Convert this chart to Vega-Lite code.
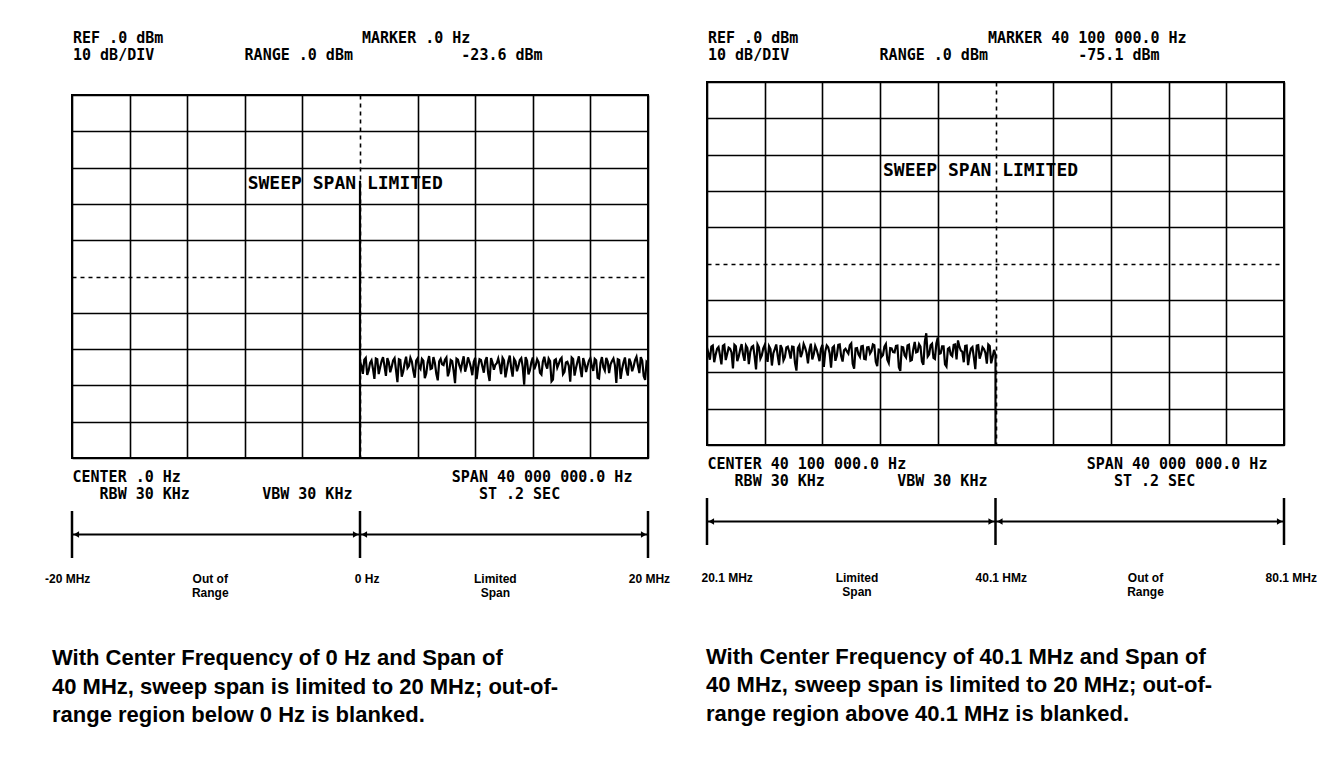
{
  "$schema": "https://vega.github.io/schema/vega-lite/v6.json",
  "background": "white",
  "padding": {"left": 45, "top": 31, "right": 10, "bottom": 20},
  "config": {"view": {"stroke": "black", "strokeWidth": 2}},
  "datasets": {
    "traceL": [
      {"MHz":-20,"dBm":-100},{"MHz":0,"dBm":-100},{"MHz":0,"dBm":-23.6},
      {"MHz":0,"dBm":-73.5},{"MHz":0.1,"dBm":-74.6},{"MHz":0.2,"dBm":-76.8},{"MHz":0.3,"dBm":-72.9},{"MHz":0.4,"dBm":-72.4},{"MHz":0.5,"dBm":-77.1},{"MHz":0.6,"dBm":-75.9},{"MHz":0.7,"dBm":-73.8},{"MHz":0.8,"dBm":-73.1},{"MHz":0.9,"dBm":-75.4},
      {"MHz":1,"dBm":-78.2},{"MHz":1.1,"dBm":-72.6},{"MHz":1.2,"dBm":-72.8},{"MHz":1.3,"dBm":-76.9},{"MHz":1.4,"dBm":-75},{"MHz":1.5,"dBm":-73.3},{"MHz":1.6,"dBm":-72.2},{"MHz":1.7,"dBm":-74.7},{"MHz":1.8,"dBm":-77.4},{"MHz":1.9,"dBm":-72.5},
      {"MHz":2,"dBm":-73.6},{"MHz":2.1,"dBm":-76.4},{"MHz":2.2,"dBm":-74.9},{"MHz":2.3,"dBm":-73.1},{"MHz":2.4,"dBm":-72.5},{"MHz":2.5,"dBm":-75.8},{"MHz":2.6,"dBm":-79.1},{"MHz":2.7,"dBm":-72.8},{"MHz":2.8,"dBm":-73},{"MHz":2.9,"dBm":-77.6},
      {"MHz":3,"dBm":-76.2},{"MHz":3.1,"dBm":-73.9},{"MHz":3.2,"dBm":-72.1},{"MHz":3.3,"dBm":-75.2},{"MHz":3.4,"dBm":-74.6},{"MHz":3.5,"dBm":-72.4},{"MHz":3.6,"dBm":-73.4},{"MHz":3.7,"dBm":-76},{"MHz":3.8,"dBm":-77.9},{"MHz":3.9,"dBm":-73.2},
      {"MHz":4,"dBm":-72.6},{"MHz":4.1,"dBm":-74.9},{"MHz":4.2,"dBm":-75.5},{"MHz":4.3,"dBm":-72.7},{"MHz":4.4,"dBm":-73.2},{"MHz":4.5,"dBm":-78},{"MHz":4.6,"dBm":-76.7},{"MHz":4.7,"dBm":-73.6},{"MHz":4.8,"dBm":-71.9},{"MHz":4.9,"dBm":-75.5},
      {"MHz":5,"dBm":-75.3},{"MHz":5.1,"dBm":-72.2},{"MHz":5.2,"dBm":-73.8},{"MHz":5.3,"dBm":-76.8},{"MHz":5.4,"dBm":-78.6},{"MHz":5.5,"dBm":-73.4},{"MHz":5.6,"dBm":-72.7},{"MHz":5.7,"dBm":-74.2},{"MHz":5.8,"dBm":-74.4},{"MHz":5.9,"dBm":-72.9},
      {"MHz":6,"dBm":-72.3},{"MHz":6.1,"dBm":-77.5},{"MHz":6.2,"dBm":-76.1},{"MHz":6.3,"dBm":-73},{"MHz":6.4,"dBm":-73.3},{"MHz":6.5,"dBm":-75.9},{"MHz":6.6,"dBm":-79.4},{"MHz":6.7,"dBm":-72.6},{"MHz":6.8,"dBm":-72.9},{"MHz":6.9,"dBm":-74.5},
      {"MHz":7,"dBm":-75.7},{"MHz":7.1,"dBm":-73.7},{"MHz":7.2,"dBm":-72},{"MHz":7.3,"dBm":-76.2},{"MHz":7.4,"dBm":-74.8},{"MHz":7.5,"dBm":-72.3},{"MHz":7.6,"dBm":-73.5},{"MHz":7.7,"dBm":-75},{"MHz":7.8,"dBm":-77.2},{"MHz":7.9,"dBm":-73.5},
      {"MHz":8,"dBm":-72.4},{"MHz":8.1,"dBm":-78.3},{"MHz":8.2,"dBm":-75.1},{"MHz":8.3,"dBm":-72.8},{"MHz":8.4,"dBm":-73},{"MHz":8.5,"dBm":-74.8},{"MHz":8.6,"dBm":-76.5},{"MHz":8.7,"dBm":-73.2},{"MHz":8.8,"dBm":-72.2},{"MHz":8.9,"dBm":-76.7},
      {"MHz":9,"dBm":-78.8},{"MHz":9.1,"dBm":-72.5},{"MHz":9.2,"dBm":-73.7},{"MHz":9.3,"dBm":-75.7},{"MHz":9.4,"dBm":-74.3},{"MHz":9.5,"dBm":-73.9},{"MHz":9.6,"dBm":-72.6},{"MHz":9.7,"dBm":-74.4},{"MHz":9.8,"dBm":-76.9},{"MHz":9.9,"dBm":-72.4},
      {"MHz":10,"dBm":-73.1},{"MHz":10.1,"dBm":-77.8},{"MHz":10.2,"dBm":-75.6},{"MHz":10.3,"dBm":-73.3},{"MHz":10.4,"dBm":-71.8},{"MHz":10.5,"dBm":-75.3},{"MHz":10.6,"dBm":-77.6},{"MHz":10.7,"dBm":-72.7},{"MHz":10.8,"dBm":-73.4},{"MHz":10.9,"dBm":-76.1},
      {"MHz":11,"dBm":-74.7},{"MHz":11.1,"dBm":-73},{"MHz":11.2,"dBm":-72.5},{"MHz":11.3,"dBm":-74.9},{"MHz":11.4,"dBm":-79.8},{"MHz":11.5,"dBm":-72.2},{"MHz":11.6,"dBm":-73.2},{"MHz":11.7,"dBm":-77},{"MHz":11.8,"dBm":-75.8},{"MHz":11.9,"dBm":-73.6},
      {"MHz":12,"dBm":-72.3},{"MHz":12.1,"dBm":-75.6},{"MHz":12.2,"dBm":-74.5},{"MHz":12.3,"dBm":-72.8},{"MHz":12.4,"dBm":-73.6},{"MHz":12.5,"dBm":-76.5},{"MHz":12.6,"dBm":-77},{"MHz":12.7,"dBm":-73.4},{"MHz":12.8,"dBm":-72.1},{"MHz":12.9,"dBm":-74.3},
      {"MHz":13,"dBm":-75.4},{"MHz":13.1,"dBm":-72.6},{"MHz":13.2,"dBm":-73.3},{"MHz":13.3,"dBm":-78.9},{"MHz":13.4,"dBm":-78.4},{"MHz":13.5,"dBm":-73.1},{"MHz":13.6,"dBm":-72.8},{"MHz":13.7,"dBm":-75.1},{"MHz":13.8,"dBm":-74.1},{"MHz":13.9,"dBm":-72.9},
      {"MHz":14,"dBm":-72.4},{"MHz":14.1,"dBm":-76.9},{"MHz":14.2,"dBm":-76.3},{"MHz":14.3,"dBm":-73.7},{"MHz":14.4,"dBm":-73.5},{"MHz":14.5,"dBm":-74.6},{"MHz":14.6,"dBm":-79},{"MHz":14.7,"dBm":-72.3},{"MHz":14.8,"dBm":-72.7},{"MHz":14.9,"dBm":-77.3},
      {"MHz":15,"dBm":-75.2},{"MHz":15.1,"dBm":-73.5},{"MHz":15.2,"dBm":-72},{"MHz":15.3,"dBm":-75.4},{"MHz":15.4,"dBm":-77.7},{"MHz":15.5,"dBm":-72.5},{"MHz":15.6,"dBm":-73.8},{"MHz":15.7,"dBm":-76.3},{"MHz":15.8,"dBm":-74.6},{"MHz":15.9,"dBm":-73.2},
      {"MHz":16,"dBm":-72.5},{"MHz":16.1,"dBm":-74.7},{"MHz":16.2,"dBm":-76},{"MHz":16.3,"dBm":-72.7},{"MHz":16.4,"dBm":-73.1},{"MHz":16.5,"dBm":-77.9},{"MHz":16.6,"dBm":-78.1},{"MHz":16.7,"dBm":-73.8},{"MHz":16.8,"dBm":-72.2},{"MHz":16.9,"dBm":-75},
      {"MHz":17,"dBm":-75.9},{"MHz":17.1,"dBm":-72.4},{"MHz":17.2,"dBm":-73.4},{"MHz":17.3,"dBm":-76.6},{"MHz":17.4,"dBm":-74.2},{"MHz":17.5,"dBm":-73.3},{"MHz":17.6,"dBm":-72.6},{"MHz":17.7,"dBm":-74.4},{"MHz":17.8,"dBm":-79.3},{"MHz":17.9,"dBm":-72.8},
      {"MHz":18,"dBm":-73},{"MHz":18.1,"dBm":-78.2},{"MHz":18.2,"dBm":-75.5},{"MHz":18.3,"dBm":-73.6},{"MHz":18.4,"dBm":-72.3},{"MHz":18.5,"dBm":-75.7},{"MHz":18.6,"dBm":-77.3},{"MHz":18.7,"dBm":-72.6},{"MHz":18.8,"dBm":-73.7},{"MHz":18.9,"dBm":-76.1},
      {"MHz":19,"dBm":-74.8},{"MHz":19.1,"dBm":-73},{"MHz":19.2,"dBm":-72.1},{"MHz":19.3,"dBm":-74.5},{"MHz":19.4,"dBm":-76.6},{"MHz":19.5,"dBm":-72.2},{"MHz":19.6,"dBm":-73.2},{"MHz":19.7,"dBm":-77.4},{"MHz":19.8,"dBm":-78.5},{"MHz":19.9,"dBm":-73.5},
      {"MHz":20,"dBm":-73.9}
    ],
    "traceR": [
      {"MHz":20.1,"dBm":-73.2},{"MHz":20.2,"dBm":-74.8},{"MHz":20.3,"dBm":-76.5},{"MHz":20.4,"dBm":-72.9},{"MHz":20.5,"dBm":-72.6},{"MHz":20.6,"dBm":-77.2},{"MHz":20.7,"dBm":-75.1},{"MHz":20.8,"dBm":-73.5},{"MHz":20.9,"dBm":-73},
      {"MHz":21,"dBm":-75.3},{"MHz":21.1,"dBm":-77.8},{"MHz":21.2,"dBm":-72.7},{"MHz":21.3,"dBm":-72.4},{"MHz":21.4,"dBm":-76.6},{"MHz":21.5,"dBm":-74.9},{"MHz":21.6,"dBm":-73.2},{"MHz":21.7,"dBm":-73.5},{"MHz":21.8,"dBm":-74.5},{"MHz":21.9,"dBm":-78.9},
      {"MHz":22,"dBm":-72.4},{"MHz":22.1,"dBm":-72.8},{"MHz":22.2,"dBm":-76.9},{"MHz":22.3,"dBm":-75.6},{"MHz":22.4,"dBm":-73.7},{"MHz":22.5,"dBm":-72.2},{"MHz":22.6,"dBm":-75.1},{"MHz":22.7,"dBm":-76.8},{"MHz":22.8,"dBm":-72.6},{"MHz":22.9,"dBm":-73.3},
      {"MHz":23,"dBm":-77.7},{"MHz":23.1,"dBm":-74.4},{"MHz":23.2,"dBm":-73},{"MHz":23.3,"dBm":-72.7},{"MHz":23.4,"dBm":-75.6},{"MHz":23.5,"dBm":-79.2},{"MHz":23.6,"dBm":-72.3},{"MHz":23.7,"dBm":-73.1},{"MHz":23.8,"dBm":-76.2},{"MHz":23.9,"dBm":-75.3},
      {"MHz":24,"dBm":-73.4},{"MHz":24.1,"dBm":-72.5},{"MHz":24.2,"dBm":-74.9},{"MHz":24.3,"dBm":-77.1},{"MHz":24.4,"dBm":-72.8},{"MHz":24.5,"dBm":-73.6},{"MHz":24.6,"dBm":-78.1},{"MHz":24.7,"dBm":-74.7},{"MHz":24.8,"dBm":-73.6},{"MHz":24.9,"dBm":-72.3},
      {"MHz":25,"dBm":-75.4},{"MHz":25.1,"dBm":-78},{"MHz":25.2,"dBm":-72.5},{"MHz":25.3,"dBm":-73.4},{"MHz":25.4,"dBm":-76.7},{"MHz":25.5,"dBm":-75.8},{"MHz":25.6,"dBm":-73.1},{"MHz":25.7,"dBm":-72.9},{"MHz":25.8,"dBm":-74.3},{"MHz":25.9,"dBm":-76.2},
      {"MHz":26,"dBm":-72.9},{"MHz":26.1,"dBm":-73},{"MHz":26.2,"dBm":-77.4},{"MHz":26.3,"dBm":-79.5},{"MHz":26.4,"dBm":-73.3},{"MHz":26.5,"dBm":-72.6},{"MHz":26.6,"dBm":-75.8},{"MHz":26.7,"dBm":-74.6},{"MHz":26.8,"dBm":-72.2},{"MHz":26.9,"dBm":-73.2},
      {"MHz":27,"dBm":-74.6},{"MHz":27.1,"dBm":-77.5},{"MHz":27.2,"dBm":-73.8},{"MHz":27.3,"dBm":-72.1},{"MHz":27.4,"dBm":-76.4},{"MHz":27.5,"dBm":-75},{"MHz":27.6,"dBm":-72.7},{"MHz":27.7,"dBm":-73.7},{"MHz":27.8,"dBm":-75.2},{"MHz":27.9,"dBm":-76.9},
      {"MHz":28,"dBm":-73.5},{"MHz":28.1,"dBm":-72.4},{"MHz":28.2,"dBm":-78.5},{"MHz":28.3,"dBm":-74.2},{"MHz":28.4,"dBm":-72.6},{"MHz":28.5,"dBm":-73.1},{"MHz":28.6,"dBm":-74.7},{"MHz":28.7,"dBm":-78.7},{"MHz":28.8,"dBm":-73.2},{"MHz":28.9,"dBm":-72.8},
      {"MHz":29,"dBm":-76.8},{"MHz":29.1,"dBm":-75.4},{"MHz":29.2,"dBm":-72.4},{"MHz":29.3,"dBm":-72.3},{"MHz":29.4,"dBm":-75.5},{"MHz":29.5,"dBm":-77},{"MHz":29.6,"dBm":-73.9},{"MHz":29.7,"dBm":-73.5},{"MHz":29.8,"dBm":-74.2},{"MHz":29.9,"dBm":-74.8},
      {"MHz":30,"dBm":-72.5},{"MHz":30.1,"dBm":-72},{"MHz":30.2,"dBm":-77.6},{"MHz":30.3,"dBm":-79},{"MHz":30.4,"dBm":-73.4},{"MHz":30.5,"dBm":-73.3},{"MHz":30.6,"dBm":-75},{"MHz":30.7,"dBm":-75.7},{"MHz":30.8,"dBm":-72.8},{"MHz":30.9,"dBm":-72.7},
      {"MHz":31,"dBm":-76.3},{"MHz":31.1,"dBm":-76.4},{"MHz":31.2,"dBm":-73.1},{"MHz":31.3,"dBm":-73},{"MHz":31.4,"dBm":-74.8},{"MHz":31.5,"dBm":-74.1},{"MHz":31.6,"dBm":-72.3},{"MHz":31.7,"dBm":-72.5},{"MHz":31.8,"dBm":-77.1},{"MHz":31.9,"dBm":-78.3},
      {"MHz":32,"dBm":-73.7},{"MHz":32.1,"dBm":-73.8},{"MHz":32.2,"dBm":-75.7},{"MHz":32.3,"dBm":-75.2},{"MHz":32.4,"dBm":-72.9},{"MHz":32.5,"dBm":-72.2},{"MHz":32.6,"dBm":-76.5},{"MHz":32.7,"dBm":-77.4},{"MHz":32.8,"dBm":-73.3},{"MHz":32.9,"dBm":-73.4},
      {"MHz":33,"dBm":-74.4},{"MHz":33.1,"dBm":-74.5},{"MHz":33.2,"dBm":-72.7},{"MHz":33.3,"dBm":-72.6},{"MHz":33.4,"dBm":-78.6},{"MHz":33.5,"dBm":-79.6},{"MHz":33.6,"dBm":-73},{"MHz":33.7,"dBm":-73.1},{"MHz":33.8,"dBm":-75.3},{"MHz":33.9,"dBm":-75.9},
      {"MHz":34,"dBm":-72.6},{"MHz":34.1,"dBm":-72.4},{"MHz":34.2,"dBm":-76.8},{"MHz":34.3,"dBm":-76.6},{"MHz":34.4,"dBm":-73.6},{"MHz":34.5,"dBm":-71.6},{"MHz":34.6,"dBm":-74.5},{"MHz":34.7,"dBm":-74.3},{"MHz":34.8,"dBm":-72.2},{"MHz":34.9,"dBm":-72.9},
      {"MHz":35,"dBm":-77},{"MHz":35.1,"dBm":-77.9},{"MHz":35.2,"dBm":-71.5},{"MHz":35.3,"dBm":-69.2},{"MHz":35.4,"dBm":-75.6},{"MHz":35.5,"dBm":-75},{"MHz":35.6,"dBm":-72.5},{"MHz":35.7,"dBm":-72.1},{"MHz":35.8,"dBm":-76},{"MHz":35.9,"dBm":-76.3},
      {"MHz":36,"dBm":-72},{"MHz":36.1,"dBm":-70.4},{"MHz":36.2,"dBm":-74.9},{"MHz":36.3,"dBm":-74.7},{"MHz":36.4,"dBm":-72.8},{"MHz":36.5,"dBm":-72.8},{"MHz":36.6,"dBm":-77.8},{"MHz":36.7,"dBm":-78.4},{"MHz":36.8,"dBm":-73.5},{"MHz":36.9,"dBm":-73.2},
      {"MHz":37,"dBm":-75.1},{"MHz":37.1,"dBm":-75.5},{"MHz":37.2,"dBm":-72.4},{"MHz":37.3,"dBm":-72.3},{"MHz":37.4,"dBm":-76.4},{"MHz":37.5,"dBm":-71.2},{"MHz":37.6,"dBm":-72.9},{"MHz":37.7,"dBm":-74},{"MHz":37.8,"dBm":-74.3},{"MHz":37.9,"dBm":-77.2},
      {"MHz":38,"dBm":-72.7},{"MHz":38.1,"dBm":-72.6},{"MHz":38.2,"dBm":-78},{"MHz":38.3,"dBm":-75.3},{"MHz":38.4,"dBm":-73.4},{"MHz":38.5,"dBm":-73},{"MHz":38.6,"dBm":-75.9},{"MHz":38.7,"dBm":-79.1},{"MHz":38.8,"dBm":-72.6},{"MHz":38.9,"dBm":-72.5},
      {"MHz":39,"dBm":-76.2},{"MHz":39.1,"dBm":-74.9},{"MHz":39.2,"dBm":-73.1},{"MHz":39.3,"dBm":-73.6},{"MHz":39.4,"dBm":-74.6},{"MHz":39.5,"dBm":-77.6},{"MHz":39.6,"dBm":-72.3},{"MHz":39.7,"dBm":-72.7},{"MHz":39.8,"dBm":-77.5},{"MHz":39.9,"dBm":-75.8},
      {"MHz":40,"dBm":-73.8},{"MHz":40.1,"dBm":-75.1},
      {"MHz":40.1,"dBm":-100},{"MHz":60.1,"dBm":-100}
    ]
  },
  "spacing": 30,
  "hconcat": [
    {
      "spacing": 7,
      "vconcat": [
        {
          "width": 576, "height": 20,
          "view": {"stroke": null},
          "data": {"values": []},
          "mark": "text",
          "encoding": {},
          "title": {
            "text": ["REF .0 dBm\u00a0\u00a0\u00a0\u00a0\u00a0\u00a0\u00a0\u00a0\u00a0\u00a0\u00a0\u00a0\u00a0\u00a0\u00a0\u00a0\u00a0\u00a0\u00a0\u00a0\u00a0\u00a0MARKER .0 Hz", "10 dB/DIV\u00a0\u00a0\u00a0\u00a0\u00a0\u00a0\u00a0\u00a0\u00a0\u00a0RANGE .0 dBm\u00a0\u00a0\u00a0\u00a0\u00a0\u00a0\u00a0\u00a0\u00a0\u00a0\u00a0\u00a0-23.6 dBm"],
            "anchor": "start", "frame": "group", "font": "DejaVu Sans Mono", "fontSize": 15, "fontWeight": "bold",
            "lineHeight": 17, "offset": 4, "dx": 1, "color": "black"
          }
        },
        {
          "width": 576, "height": 363,
          "encoding": {
            "x": {
              "field": "MHz", "type": "quantitative",
              "scale": {"domain": [-20, 20], "nice": false, "zero": false},
              "axis": {
                "values": [-20, -16, -12, -8, -4, 0, 4, 8, 12, 16, 20],
                "grid": true, "labels": false, "ticks": false, "domain": false,
                "gridColor": "black", "gridWidth": 1.6, "gridOpacity": 1,
                "gridDash": {"condition": {"test": "datum.value === 0", "value": [4, 4]}, "value": []},
                "title": ["CENTER .0 Hz\u00a0\u00a0\u00a0\u00a0\u00a0\u00a0\u00a0\u00a0\u00a0\u00a0\u00a0\u00a0\u00a0\u00a0\u00a0\u00a0\u00a0\u00a0\u00a0\u00a0\u00a0\u00a0\u00a0\u00a0\u00a0\u00a0\u00a0\u00a0\u00a0\u00a0SPAN 40 000 000.0 Hz", "\u200b\u00a0\u00a0\u00a0RBW 30 KHz\u00a0\u00a0\u00a0\u00a0\u00a0\u00a0\u00a0\u00a0VBW 30 KHz\u00a0\u00a0\u00a0\u00a0\u00a0\u00a0\u00a0\u00a0\u00a0\u00a0\u00a0\u00a0\u00a0\u00a0ST .2 SEC"],
                "titleFont": "DejaVu Sans Mono", "titleFontSize": 15, "titleFontWeight": "bold", "titleColor": "black",
                "titleLineHeight": 17, "titleAnchor": "start", "titleAlign": "left", "titlePadding": 11
              }
            },
            "y": {
              "field": "dBm", "type": "quantitative",
              "scale": {"domain": [-100, 0], "nice": false, "zero": false},
              "axis": {
                "values": [-100, -90, -80, -70, -60, -50, -40, -30, -20, -10, 0],
                "grid": true, "labels": false, "ticks": false, "domain": false, "title": null,
                "gridColor": "black", "gridWidth": 1.6, "gridOpacity": 1,
                "gridDash": {"condition": {"test": "datum.value === -50", "value": [4, 4]}, "value": []}
              }
            }
          },
          "layer": [
            {
              "data": {"name": "traceL"},
              "mark": {"type": "line", "color": "black", "strokeWidth": 2.2, "clip": true},
              "encoding": {"order": {"value": null}}
            },
            {
              "data": {"values": [{"MHz": -7.8, "dBm": -24.5, "msg": "SWEEP SPAN LIMITED"}]},
              "mark": {"type": "text", "align": "left", "baseline": "middle", "font": "DejaVu Sans Mono", "fontSize": 18, "fontWeight": "bold", "color": "black"},
              "encoding": {"text": {"field": "msg"}}
            }
          ]
        },
        {
          "width": 576, "height": 47,
          "view": {"stroke": null},
          "title": {
            "text": ["With Center Frequency of 0 Hz and Span of", "40 MHz, sweep span is limited to 20 MHz; out-of-", "range region below 0 Hz is blanked."],
            "orient": "bottom", "anchor": "start", "frame": "group", "font": "Liberation Sans", "fontSize": 22, "fontWeight": "bold",
            "lineHeight": 28.5, "offset": 49, "dx": -20, "color": "black"
          },
          "layer": [
            {
              "data": {"values": [{"MHz": -20}, {"MHz": 0}, {"MHz": 20}]},
              "mark": {"type": "rule", "color": "black", "strokeWidth": 2.5},
              "encoding": {
                "x": {"field": "MHz", "type": "quantitative", "scale": {"domain": [-20, 20], "nice": false, "zero": false}, "axis": null},
                "y": {"datum": -1, "type": "quantitative", "scale": {"domain": [-1, 1], "nice": false, "zero": false}, "axis": null},
                "y2": {"datum": 1}
              }
            },
            {
              "data": {"values": [{"from": -20, "to": 0}, {"from": 0, "to": 20}]},
              "mark": {"type": "rule", "color": "black", "strokeWidth": 2.2},
              "encoding": {
                "x": {"field": "from", "type": "quantitative"},
                "x2": {"field": "to"},
                "y": {"datum": 0, "type": "quantitative"}
              }
            },
            {
              "data": {"values": [{"MHz": -19.7, "dir": "left"}, {"MHz": -0.3, "dir": "right"}, {"MHz": 0.3, "dir": "left"}, {"MHz": 19.7, "dir": "right"}]},
              "mark": {"type": "point", "filled": true, "color": "black", "size": 40, "opacity": 1},
              "encoding": {
                "x": {"field": "MHz", "type": "quantitative"},
                "y": {"datum": 0, "type": "quantitative"},
                "shape": {"field": "dir", "type": "nominal", "scale": {"domain": ["left", "right"], "range": ["triangle-left", "triangle-right"]}, "legend": null}
              }
            },
            {
              "data": {"values": [
                {"MHz": -20.3, "pos": -1.9, "lab": "-20 MHz"},
                {"MHz": -10.4, "pos": -1.9, "lab": "Out of\nRange"},
                {"MHz": 0.5, "pos": -1.9, "lab": "0 Hz"},
                {"MHz": 9.4, "pos": -1.9, "lab": "Limited\nSpan"},
                {"MHz": 20.1, "pos": -1.9, "lab": "20 MHz"}
              ]},
              "mark": {"type": "text", "font": "Liberation Sans", "fontSize": 12, "fontWeight": "bold", "lineBreak": "\n", "lineHeight": 14, "baseline": "middle", "align": "center", "color": "black"},
              "encoding": {
                "x": {"field": "MHz", "type": "quantitative"},
                "y": {"field": "pos", "type": "quantitative"},
                "text": {"field": "lab"}
              }
            }
          ]
        }
      ]
    },
    {
      "spacing": 7,
      "vconcat": [
        {
          "width": 577, "height": 7,
          "view": {"stroke": null},
          "data": {"values": []},
          "mark": "text",
          "encoding": {},
          "title": {
            "text": ["REF .0 dBm\u00a0\u00a0\u00a0\u00a0\u00a0\u00a0\u00a0\u00a0\u00a0\u00a0\u00a0\u00a0\u00a0\u00a0\u00a0\u00a0\u00a0\u00a0\u00a0\u00a0\u00a0MARKER 40 100 000.0 Hz", "10 dB/DIV\u00a0\u00a0\u00a0\u00a0\u00a0\u00a0\u00a0\u00a0\u00a0\u00a0RANGE .0 dBm\u00a0\u00a0\u00a0\u00a0\u00a0\u00a0\u00a0\u00a0\u00a0\u00a0-75.1 dBm"],
            "anchor": "start", "frame": "group", "font": "DejaVu Sans Mono", "fontSize": 15, "fontWeight": "bold",
            "lineHeight": 17, "offset": 4, "dx": 1, "color": "black"
          }
        },
        {
          "width": 577, "height": 363,
          "encoding": {
            "x": {
              "field": "MHz", "type": "quantitative",
              "scale": {"domain": [20.1, 60.1], "nice": false, "zero": false},
              "axis": {
                "values": [20.1, 24.1, 28.1, 32.1, 36.1, 40.1, 44.1, 48.1, 52.1, 56.1, 60.1],
                "grid": true, "labels": false, "ticks": false, "domain": false,
                "gridColor": "black", "gridWidth": 1.6, "gridOpacity": 1,
                "gridDash": {"condition": {"test": "abs(datum.value - 40.1) < 0.01", "value": [4, 4]}, "value": []},
                "title": ["CENTER 40 100 000.0 Hz\u00a0\u00a0\u00a0\u00a0\u00a0\u00a0\u00a0\u00a0\u00a0\u00a0\u00a0\u00a0\u00a0\u00a0\u00a0\u00a0\u00a0\u00a0\u00a0\u00a0SPAN 40 000 000.0 Hz", "\u200b\u00a0\u00a0\u00a0RBW 30 KHz\u00a0\u00a0\u00a0\u00a0\u00a0\u00a0\u00a0\u00a0VBW 30 KHz\u00a0\u00a0\u00a0\u00a0\u00a0\u00a0\u00a0\u00a0\u00a0\u00a0\u00a0\u00a0\u00a0\u00a0ST .2 SEC"],
                "titleFont": "DejaVu Sans Mono", "titleFontSize": 15, "titleFontWeight": "bold", "titleColor": "black",
                "titleLineHeight": 17, "titleAnchor": "start", "titleAlign": "left", "titlePadding": 11
              }
            },
            "y": {
              "field": "dBm", "type": "quantitative",
              "scale": {"domain": [-100, 0], "nice": false, "zero": false},
              "axis": {
                "values": [-100, -90, -80, -70, -60, -50, -40, -30, -20, -10, 0],
                "grid": true, "labels": false, "ticks": false, "domain": false, "title": null,
                "gridColor": "black", "gridWidth": 1.6, "gridOpacity": 1,
                "gridDash": {"condition": {"test": "datum.value === -50", "value": [4, 4]}, "value": []}
              }
            }
          },
          "layer": [
            {
              "data": {"name": "traceR"},
              "mark": {"type": "line", "color": "black", "strokeWidth": 2.2, "clip": true},
              "encoding": {"order": {"value": null}}
            },
            {
              "data": {"values": [{"MHz": 32.3, "dBm": -24.5, "msg": "SWEEP SPAN LIMITED"}]},
              "mark": {"type": "text", "align": "left", "baseline": "middle", "font": "DejaVu Sans Mono", "fontSize": 18, "fontWeight": "bold", "color": "black"},
              "encoding": {"text": {"field": "msg"}}
            }
          ]
        },
        {
          "width": 577, "height": 47,
          "view": {"stroke": null},
          "title": {
            "text": ["With Center Frequency of 40.1 MHz and Span of", "40 MHz, sweep span is limited to 20 MHz; out-of-", "range region above 40.1 MHz is blanked."],
            "orient": "bottom", "anchor": "start", "frame": "group", "font": "Liberation Sans", "fontSize": 22, "fontWeight": "bold",
            "lineHeight": 28.5, "offset": 49, "dx": -1, "color": "black"
          },
          "layer": [
            {
              "data": {"values": [{"MHz": 20.1}, {"MHz": 40.1}, {"MHz": 60.1}]},
              "mark": {"type": "rule", "color": "black", "strokeWidth": 2.5},
              "encoding": {
                "x": {"field": "MHz", "type": "quantitative", "scale": {"domain": [20.1, 60.1], "nice": false, "zero": false}, "axis": null},
                "y": {"datum": -1, "type": "quantitative", "scale": {"domain": [-1, 1], "nice": false, "zero": false}, "axis": null},
                "y2": {"datum": 1}
              }
            },
            {
              "data": {"values": [{"from": 20.1, "to": 40.1}, {"from": 40.1, "to": 60.1}]},
              "mark": {"type": "rule", "color": "black", "strokeWidth": 2.2},
              "encoding": {
                "x": {"field": "from", "type": "quantitative"},
                "x2": {"field": "to"},
                "y": {"datum": 0, "type": "quantitative"}
              }
            },
            {
              "data": {"values": [{"MHz": 20.4, "dir": "left"}, {"MHz": 39.8, "dir": "right"}, {"MHz": 40.4, "dir": "left"}, {"MHz": 59.8, "dir": "right"}]},
              "mark": {"type": "point", "filled": true, "color": "black", "size": 40, "opacity": 1},
              "encoding": {
                "x": {"field": "MHz", "type": "quantitative"},
                "y": {"datum": 0, "type": "quantitative"},
                "shape": {"field": "dir", "type": "nominal", "scale": {"domain": ["left", "right"], "range": ["triangle-left", "triangle-right"]}, "legend": null}
              }
            },
            {
              "data": {"values": [
                {"MHz": 21.5, "pos": -2.4, "lab": "20.1 MHz"},
                {"MHz": 30.5, "pos": -2.4, "lab": "Limited\nSpan"},
                {"MHz": 40.5, "pos": -2.4, "lab": "40.1 HMz"},
                {"MHz": 50.5, "pos": -2.4, "lab": "Out of\nRange"},
                {"MHz": 60.6, "pos": -2.4, "lab": "80.1 MHz"}
              ]},
              "mark": {"type": "text", "font": "Liberation Sans", "fontSize": 12, "fontWeight": "bold", "lineBreak": "\n", "lineHeight": 14, "baseline": "middle", "align": "center", "color": "black"},
              "encoding": {
                "x": {"field": "MHz", "type": "quantitative"},
                "y": {"field": "pos", "type": "quantitative"},
                "text": {"field": "lab"}
              }
            }
          ]
        }
      ]
    }
  ]
}
